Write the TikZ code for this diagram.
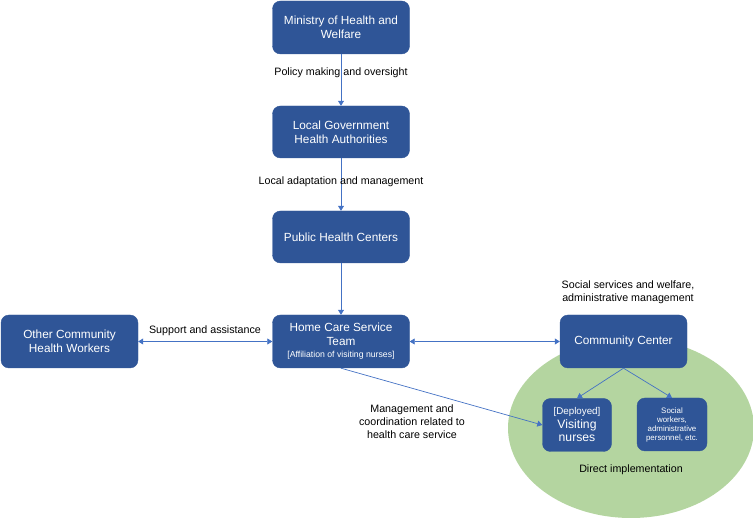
\documentclass[tikz,border=0pt]{standalone}
\usepackage{fontspec}
\setmainfont{Liberation Sans}
\usetikzlibrary{arrows.meta}
\definecolor{boxblue}{HTML}{2F5597}
\definecolor{arrowblue}{HTML}{4472C4}
\definecolor{ellgreen}{HTML}{B4D5A0}
\tikzset{
  box/.style={draw=boxblue, fill=boxblue, rounded corners=8pt, text=white, align=center, inner sep=2pt, font=\fontsize{11.8}{14}\selectfont},
  lbl/.style={align=center, font=\fontsize{10.7}{13}\selectfont, text=black},
  conn/.style={draw=arrowblue, line width=0.7pt, -{Triangle[width=6pt,length=5pt]}},
  dconn/.style={draw=arrowblue, line width=0.7pt, {Triangle[width=6pt,length=5pt]}-{Triangle[width=6pt,length=5pt]}}
}
\begin{document}
\begin{tikzpicture}[x=1pt,y=-1pt]
\useasboundingbox (0,0) rectangle (753,518);
\begin{scope}
\clip (0,0) rectangle (753,518);
\fill[ellgreen] (631,428) ellipse [x radius=123, y radius=90];
\end{scope}
\node[box, minimum width=137pt, minimum height=53pt] (min) at (341,27.5) {Ministry of Health and\\Welfare};
\node[box, minimum width=137pt, minimum height=52pt] (loc) at (341,132) {Local Government\\Health Authorities};
\node[box, minimum width=137pt, minimum height=52pt] (phc) at (341,237) {Public Health Centers};
\node[box, minimum width=137pt, minimum height=53pt] (hcs) at (341,341.5) {Home Care Service\\Team\\[-2pt]{\fontsize{8.7}{10}\selectfont [Affiliation of visiting nurses]}};
\node[box, minimum width=137pt, minimum height=53pt] (ocw) at (69.5,341.5) {Other Community\\Health Workers};
\node[box, minimum width=127pt, minimum height=53pt] (cc) at (623.5,341.5) {Community Center};
\node[box, minimum width=69pt, minimum height=53pt, font=\fontsize{12.2}{13.5}\selectfont] (vn) at (577,425) {{\fontsize{9.8}{10}\selectfont [Deployed]}\\Visiting\\nurses};
\node[box, minimum width=70pt, minimum height=53pt, font=\fontsize{7.9}{9}\selectfont] (sw) at (672,424.5) {Social\\workers,\\administrative\\personnel, etc.};

\draw[conn] (min) -- (loc);
\draw[conn] (loc) -- (phc);
\draw[conn] (phc) -- (hcs);
\draw[dconn] (ocw) -- (hcs);
\draw[dconn] (hcs) -- (cc);
\draw[conn] (cc.south) -- (vn.north);
\draw[conn] (cc.south) -- (sw.north);
\draw[conn] (hcs.south) -- (vn.west);

\node[lbl] (l1) at (341,73) {Policy making and oversight};
\node[lbl] (l2) at (341,182) {Local adaptation and management};
\node[lbl] (l3) at (628,292) {Social services and welfare,\\administrative management};
\node[lbl] (l4) at (205,331) {Support and assistance};
\node[lbl] (l5) at (412,422) {Management and\\coordination related to\\health care service};
\node[lbl] (l6) at (631,470) {Direct implementation};
\end{tikzpicture}
\end{document}
